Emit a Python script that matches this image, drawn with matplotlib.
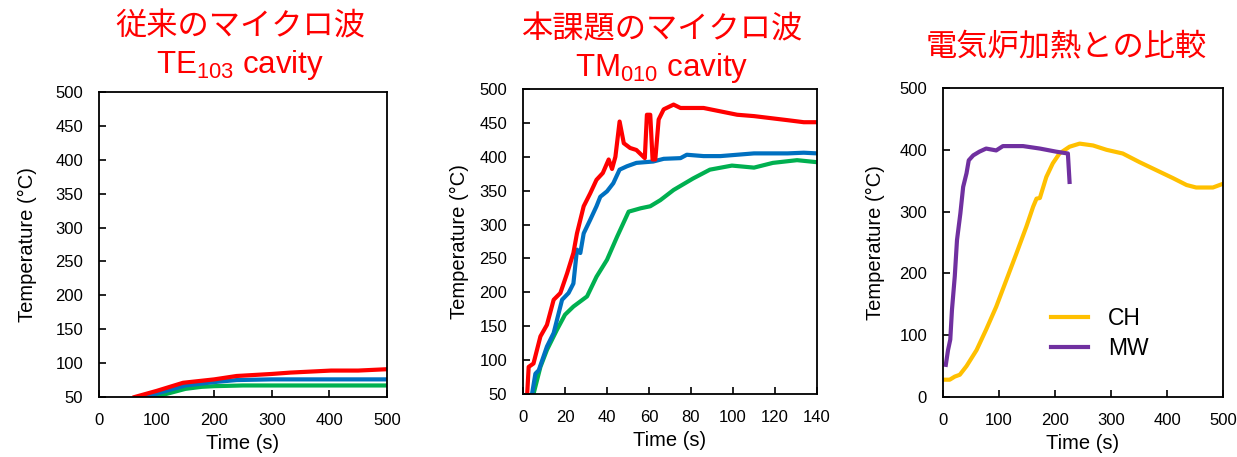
import numpy as np
import matplotlib
matplotlib.use("Agg")
import matplotlib.pyplot as plt

plt.rcParams['font.family'] = ['Liberation Sans', 'Noto Sans CJK JP', 'DejaVu Sans']
plt.rcParams['mathtext.default'] = 'regular'

RED = '#FF0000'
BLUE = '#0070C0'
GREEN = '#00B050'
YELLOW = '#FFC000'
PURPLE = '#7030A0'

# TE103 cavity (conventional microwave)
te_red_t = [62, 100, 146, 200, 239, 300, 332, 403, 450, 500]
te_red_v = [50, 59, 71, 76, 81, 84, 86, 89, 89, 91]
te_blue_t = [80, 120, 150, 200, 239, 300, 400, 500]
te_blue_v = [50, 60, 67, 72, 75, 76, 76, 76]
te_green_t = [97, 150, 178, 200, 250, 300, 400, 500]
te_green_v = [50, 62, 65, 66, 67, 67, 67, 67]

# TM010 cavity
tm_red_t = [2, 2.7, 5, 8.3, 11.4, 14.6, 17.8, 21, 24, 25.7, 28.9, 32, 35, 38,
            40.8, 42.4, 44, 46, 48, 51, 54, 58, 59, 60.6, 61.7, 63, 64.6, 67,
            71.7, 75, 86, 94, 102, 110, 118, 126, 133.7, 140]
tm_red_v = [50, 90, 95, 135, 152, 189, 199, 228, 258, 287, 327, 346, 366, 376,
            396, 382, 400, 452, 420, 413, 410, 398, 462, 462, 396, 396, 455, 470,
            477, 472, 472, 467, 462, 460, 457, 454, 451, 451]
tm_blue_t = [4.3, 5.9, 7.5, 11.4, 14.6, 18.6, 21.7, 24, 25.7, 27.3, 28.9, 32,
             35, 36.8, 40, 43, 46, 49.5, 54, 62, 67, 75, 78, 86, 94, 102, 110,
             126, 133.7, 140]
tm_blue_v = [50, 80, 85, 120, 140, 189, 199, 213, 263, 258, 287, 307, 327, 341,
             349, 361, 381, 386, 391, 393, 397, 398, 403, 401, 401, 403, 405,
             405, 406, 405]
tm_green_t = [5, 8.3, 11.4, 16.2, 20, 24, 30.5, 35, 40, 44.8, 50.3, 56, 60.6,
              65.4, 71.7, 81, 89, 99.5, 110, 119, 130.5, 140]
tm_green_v = [50, 90, 115, 145, 167, 179, 194, 223, 248, 282, 319, 324, 327,
              336, 351, 368, 381, 387, 384, 391, 395, 392]

# electric furnace (CH) vs microwave (MW)
ch_t = [0, 12, 21, 30, 42, 60, 77, 95, 113, 131, 149, 161, 167, 173, 184.5,
        196, 208, 226, 244, 268, 292, 321, 351, 381, 411, 435, 452, 482, 500]
ch_v = [28, 28, 33, 36, 50, 76, 109, 146, 189, 232, 276, 308, 321, 322, 356,
        378, 394, 405, 410, 407, 400, 394, 380, 367, 354, 343, 339, 339, 345]
mw_t = [5, 9, 13, 16, 21, 25, 31, 36, 42, 46, 54, 65, 77, 95, 107, 143, 173,
        202, 223, 226]
mw_v = [52, 76, 93, 141, 195, 254, 297, 340, 362, 383, 391, 397, 402, 399,
        406, 406, 402, 397, 394, 348]

fig = plt.figure(figsize=(12.37, 4.57), dpi=100)
W, H = 1237, 457


def make_ax(x0, x1, ytop, ybot, ypad):
    ax = fig.add_axes([x0 / W, 1 - ybot / H, (x1 - x0) / W, (ybot - ytop) / H])
    ax.tick_params(direction='in', length=5, width=1.2, labelsize=12,
                   top=False, right=False, pad=11.5)
    for s in ax.spines.values():
        s.set_linewidth(1.3)
    ax.set_xlabel('Time (s)', fontsize=14.5, labelpad=4)
    ax.set_ylabel('Temperature (°C)', fontsize=14.5, labelpad=ypad)
    return ax


lw = 3

ax1 = make_ax(99, 387, 92, 397, 13)
ax1.plot(te_green_t, te_green_v, color=GREEN, lw=lw)
ax1.plot(te_blue_t, te_blue_v, color=BLUE, lw=lw)
ax1.plot(te_red_t, te_red_v, color=RED, lw=lw)
ax1.set_xlim(0, 500)
ax1.set_ylim(50, 500)
ax1.set_xticks(np.arange(0, 501, 100))
ax1.set_yticks(np.arange(50, 501, 50))

ax2 = make_ax(523, 817, 89, 394, 7)
ax2.plot(tm_green_t, tm_green_v, color=GREEN, lw=lw)
ax2.plot(tm_blue_t, tm_blue_v, color=BLUE, lw=lw)
ax2.plot(tm_red_t, tm_red_v, color=RED, lw=lw)
ax2.set_xlim(0, 140)
ax2.set_ylim(50, 500)
ax2.set_xticks(np.arange(0, 141, 20))
ax2.set_yticks(np.arange(50, 501, 50))

ax3 = make_ax(943, 1223, 88, 397, 10)
ax3.plot(ch_t, ch_v, color=YELLOW, lw=lw, label='CH')
ax3.plot(mw_t, mw_v, color=PURPLE, lw=lw, label='MW')
ax3.set_xlim(0, 500)
ax3.set_ylim(0, 500)
ax3.set_xticks(np.arange(0, 501, 100))
ax3.set_yticks(np.arange(0, 501, 100))
ax3.legend(loc='center left', bbox_to_anchor=(0.312, 0.205), frameon=False,
           fontsize=16.5, handlelength=1.6, handletextpad=0.9, labelspacing=0.3)

tkw = dict(color=RED, ha='center', va='center', fontsize=22.5)
fig.text(240 / W, 1 - 27 / H, '従来のマイクロ波', **tkw)
fig.text(240 / W, 1 - 65 / H, 'TE$_{103}$ cavity', **tkw)
fig.text(662 / W, 1 - 30 / H, '本課題のマイクロ波', **tkw)
fig.text(662 / W, 1 - 68 / H, 'TM$_{010}$ cavity', **tkw)
fig.text(1066 / W, 1 - 47 / H, '電気炉加熱との比較', **tkw)

fig.savefig('out.png', dpi=100)
